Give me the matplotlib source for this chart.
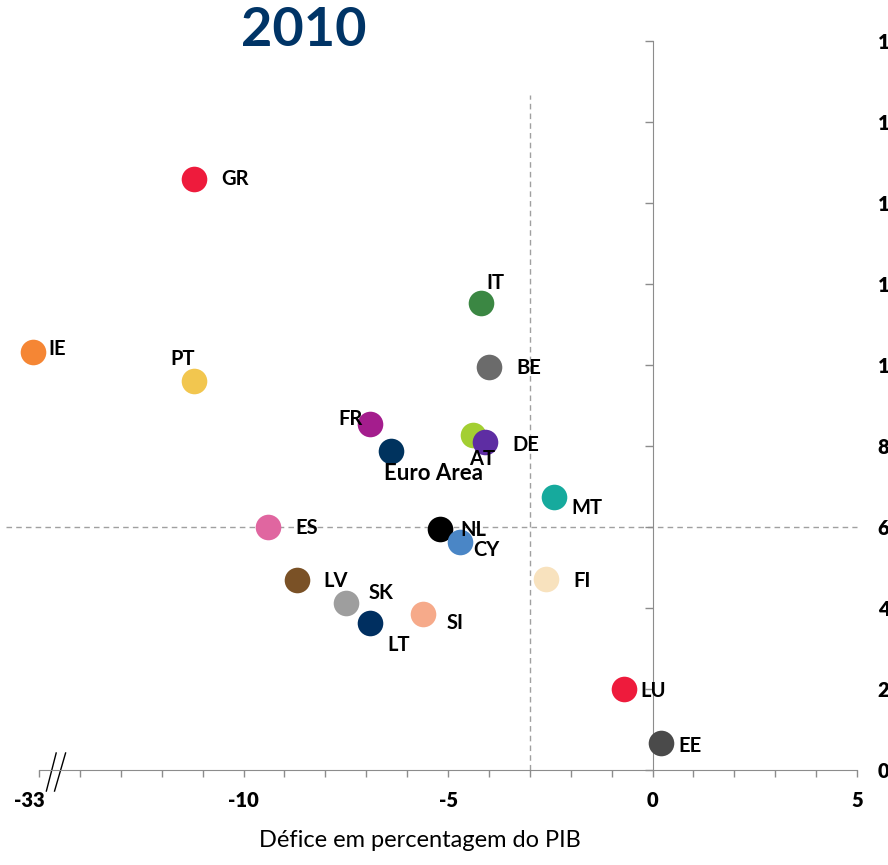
import matplotlib
matplotlib.use("Agg")
import matplotlib.pyplot as plt
from matplotlib.ticker import MultipleLocator, FixedLocator
from matplotlib.transforms import ScaledTranslation

plt.rcParams['font.family'] = ['Lato', 'DejaVu Sans']
plt.rcParams['font.weight'] = 'bold'

# data (deficit % of GDP, debt % of GDP), 2010
# IE deficit was about -32 % : drawn just beyond the axis break
countries = ['GR', 'IE', 'PT', 'IT', 'BE', 'FR', 'Euro Area', 'AT', 'DE', 'MT',
             'ES', 'NL', 'CY', 'LV', 'SK', 'LT', 'SI', 'FI', 'LU', 'EE']
deficit = [-11.2, -15.15, -11.2, -4.2, -4.0, -6.9, -6.4, -4.4, -4.1, -2.4,
           -9.4, -5.2, -4.7, -8.7, -7.5, -6.9, -5.6, -2.6, -0.7, 0.2]
debt = [146.0, 103.2, 96.0, 115.3, 99.5, 85.4, 78.8, 82.7, 81.0, 67.4,
        60.0, 59.5, 56.3, 46.9, 41.2, 36.3, 38.5, 47.2, 20.0, 6.7]
colors = ['#EE1B3C', '#F58634', '#F2C64F', '#3B8743', '#6B6B6B', '#A41D8D',
          '#00335E', '#A3CF32', '#5E2DA3', '#16AA9D', '#E066A0', '#000000',
          '#4A86C6', '#7A5126', '#9E9E9E', '#002F60', '#F6AA8A', '#F8E2BE',
          '#EE1B3C', '#4A4A4A']

xtick_pos = [-15, -10, -5, 0, 5]
xtick_labels = ['-33', '-10', '-5', '0', '5']
ytick_pos = [0, 20, 40, 60, 80, 100, 120, 140, 160, 180]
ytick_labels = ['0', '20', '40', '60', '80', '100', '120', '140', '160', '180']

deficit_limit = -3
debt_limit = 60

# label offsets in pixels (dx, dy, ha)
lab_off = {
    'GR': (27, 0, 'left'), 'IE': (16, 3, 'left'), 'PT': (-12, 22, 'center'),
    'IT': (15, 20, 'center'), 'BE': (27, -1, 'left'), 'FR': (-20, 5, 'center'),
    'Euro Area': (43, -23, 'center'), 'AT': (10, -24, 'center'),
    'DE': (28, -3, 'left'), 'MT': (17, -11, 'left'), 'ES': (27, -1, 'left'),
    'NL': (21, -1, 'left'), 'CY': (13, -8, 'left'), 'LV': (27, -1, 'left'),
    'SK': (23, 10, 'left'), 'LT': (17, -22, 'left'), 'SI': (23, -9, 'left'),
    'FI': (27, -2, 'left'), 'LU': (17, -2, 'left'), 'EE': (18, -3, 'left'),
}

fig = plt.figure(figsize=(8.88, 8.65), dpi=100)
ax = fig.add_axes([39/888, 1 - 770/865, (857 - 39)/888, (770 - 41)/865])
ax.set_xlim(-15, 5)
ax.set_ylim(0, 180)

grey = '#8C8C8C'
ax.spines['top'].set_visible(False)
ax.spines['right'].set_visible(False)
ax.spines['left'].set_position(('data', 0))
ax.spines['left'].set_color(grey)
ax.spines['bottom'].set_color(grey)

ax.xaxis.set_major_locator(FixedLocator(xtick_pos))
ax.set_xticklabels(xtick_labels, fontweight='heavy')
ax.xaxis.set_minor_locator(MultipleLocator(1))
ax.tick_params(axis='x', which='both', direction='out', color=grey, length=5, width=1)
ax.tick_params(axis='x', which='major', labelsize=14.5, pad=10)

ax.yaxis.set_major_locator(FixedLocator(ytick_pos))
ax.set_yticklabels(ytick_labels, fontweight='heavy')
ax.tick_params(axis='y', which='both', left=True, right=False, labelleft=False,
               labelright=True, direction='out', color=grey, length=5.5, width=1,
               labelsize=14.5, pad=9.5)
for lb in ax.get_yticklabels():
    lb.set_horizontalalignment('left')
# the "-33" label sits a bit left of its tick
lb33 = ax.get_xticklabels()[0]
lb33.set_transform(lb33.get_transform() + ScaledTranslation(-0.10, 0, fig.dpi_scale_trans))

# reference lines (60 % debt, -3 % deficit)
ax.plot([-15.8, 5], [debt_limit, debt_limit], color='#A0A0A0', lw=1,
        ls=(0, (4, 3)), clip_on=False, zorder=1)
ax.plot([deficit_limit, deficit_limit], [0, 166.7], color='#A0A0A0', lw=1,
        ls=(0, (4, 3)), zorder=1)

# axis break marks
ax.plot([-14.82, -14.58], [-5.2, 4.2], color='black', lw=1, clip_on=False)
ax.plot([-14.62, -14.35], [-5.2, 4.2], color='black', lw=1, clip_on=False)

for i, c in enumerate(countries):
    ax.scatter(deficit[i], debt[i], s=340, color=colors[i], zorder=3,
               clip_on=False, linewidths=0)
    dx, dy, ha = lab_off[c]
    fs = 16 if c == 'Euro Area' else 14.5
    ax.annotate(c, (deficit[i], debt[i]), xytext=(dx, dy), textcoords='offset pixels',
                ha=ha, va='center', fontsize=fs, fontweight='bold', zorder=4,
                annotation_clip=False)

ax.set_xlabel('Défice em percentagem do PIB', fontsize=17, fontweight='normal')
ax.xaxis.set_label_coords((420 - 39)/818, (770 - 830)/729)

fig.text(304/888, 1 - 30/865, '2010', ha='center', va='center', fontsize=39,
         fontweight='bold', color='#003466')

fig.savefig('out.png', dpi=100)
